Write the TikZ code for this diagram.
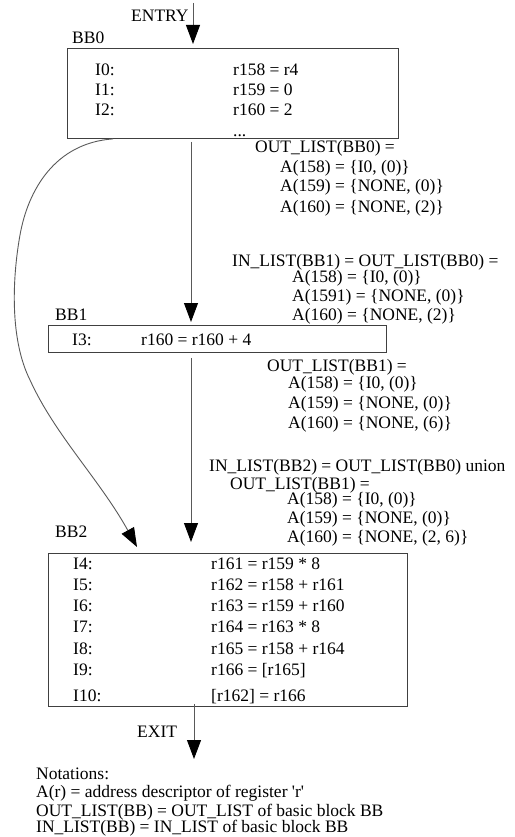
\documentclass[tikz,border=0pt]{standalone}
\usepackage{fontspec}
\setmainfont{Liberation Serif}
\usetikzlibrary{arrows.meta,calc}
\tikzset{
  txt/.style={anchor=base west, inner sep=0pt, font=\fontsize{17.5}{21}\selectfont},
  bbox/.style={draw=black!75, line width=0.9pt, rectangle, inner sep=0pt, anchor=north west},
  conn/.style={draw=black!65, line width=0.9pt, -{Triangle[length=19pt,width=14pt,fill=black,color=black]}},
}
\begin{document}
\begin{tikzpicture}[x=1pt,y=-1pt]
\useasboundingbox (0,0) rectangle (514,837);
% boxes
\node[bbox, minimum width=331pt, minimum height=90pt] (bb0) at (67,48) {};
\node[bbox, minimum width=338pt, minimum height=27pt] (bb1) at (48,325) {};
\node[bbox, minimum width=359pt, minimum height=153pt] (bb2) at (48,553) {};
% helper coordinates
\coordinate (entry) at (193,3);
\coordinate (mid) at (191,0);
\coordinate (cl) at (113,0);
\coordinate (cr) at (137,0);
\coordinate (exitend) at (194,759);
% connectors
\draw[conn, shorten >=4pt] (entry) -- (entry |- bb0.north);
\draw[conn, shorten <=3pt, shorten >=3pt] (bb0.south -| mid) -- (bb1.north -| mid);
\draw[conn, shorten <=5pt, shorten >=11pt] (bb1.south -| mid) -- (bb2.north -| mid);
\draw[conn] (bb0.south -| cl) .. controls (55,143) and (28,190) .. (20,235)
   .. controls (12,280) and (10,340) .. (30,380)
   .. controls (55,435) and (100,480) .. ($(bb2.north -| cr)+(0,-6)$);
\draw[conn, shorten <=-3pt] (bb2.south -| exitend) -- (exitend);
% labels
\node[txt] (entrylbl) at (131,22) {ENTRY};
\node[txt] (bb0lbl) at (72,44) {BB0};
\node[txt] (i0) at (95,76) {I0:};
\node[txt] (i0r) at (233,76) {r158 = r4};
\node[txt] (i1) at (95,96) {I1:};
\node[txt] (i1r) at (233,96) {r159 = 0};
\node[txt] (i2) at (95,116) {I2:};
\node[txt] (i2r) at (233,116) {r160 = 2};
\node[txt] (dots) at (233,137) {...};
\node[txt] (o0) at (255,153) {OUT\_LIST(BB0) =};
\node[txt] (o0a) at (280,172) {A(158) = \{I0, (0)\}};
\node[txt] (o0b) at (280,192) {A(159) = \{NONE, (0)\}};
\node[txt] (o0c) at (280,212) {A(160) = \{NONE, (2)\}};
\node[txt] (in1) at (232,266) {IN\_LIST(BB1) = OUT\_LIST(BB0) =};
\node[txt] (in1a) at (292,282) {A(158) = \{I0, (0)\}};
\node[txt] (in1b) at (292,301) {A(1591) = \{NONE, (0)\}};
\node[txt] (in1c) at (292,320) {A(160) = \{NONE, (2)\}};
\node[txt] (bb1lbl) at (55,320) {BB1};
\node[txt] (i3) at (72,345) {I3:};
\node[txt] (i3r) at (141,345) {r160 = r160 + 4};
\node[txt] (o1) at (267,371) {OUT\_LIST(BB1) =};
\node[txt] (o1a) at (288,388) {A(158) = \{I0, (0)\}};
\node[txt] (o1b) at (288,408) {A(159) = \{NONE, (0)\}};
\node[txt] (o1c) at (288,428) {A(160) = \{NONE, (6)\}};
\node[txt] (in2) at (209,471) {IN\_LIST(BB2) = OUT\_LIST(BB0) union};
\node[txt] (in2o) at (230,489) {OUT\_LIST(BB1) =};
\node[txt] (in2a) at (287,504) {A(158) = \{I0, (0)\}};
\node[txt] (in2b) at (287,523) {A(159) = \{NONE, (0)\}};
\node[txt] (in2c) at (287,542) {A(160) = \{NONE, (2, 6)\}};
\node[txt] (bb2lbl) at (55,537) {BB2};
\node[txt] (i4) at (73,569) {I4:};
\node[txt] (i4r) at (211,569) {r161 = r159 * 8};
\node[txt] (i5) at (73,590) {I5:};
\node[txt] (i5r) at (211,590) {r162 = r158 + r161};
\node[txt] (i6) at (73,611) {I6:};
\node[txt] (i6r) at (211,611) {r163 = r159 + r160};
\node[txt] (i7) at (73,632) {I7:};
\node[txt] (i7r) at (211,632) {r164 = r163 * 8};
\node[txt] (i8) at (73,654) {I8:};
\node[txt] (i8r) at (211,654) {r165 = r158 + r164};
\node[txt] (i9) at (73,675) {I9:};
\node[txt] (i9r) at (211,675) {r166 = [r165]};
\node[txt] (i10) at (73,701) {I10:};
\node[txt] (i10r) at (211,701) {[r162] = r166};
\node[txt] (exitlbl) at (137,737) {EXIT};
\node[txt] (n0) at (36,779) {Notations:};
\node[txt] (n1) at (36,797) {A(r) = address descriptor of register \textquotesingle r\textquotesingle};
\node[txt] (n2) at (36,816) {OUT\_LIST(BB) = OUT\_LIST of basic block BB};
\node[txt] (n3) at (36,832) {IN\_LIST(BB) = IN\_LIST of basic block BB};
\end{tikzpicture}
\end{document}
